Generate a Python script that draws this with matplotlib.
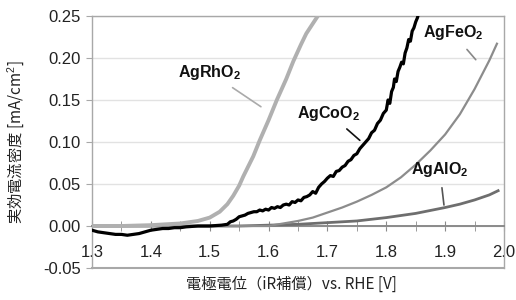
import matplotlib
matplotlib.use("Agg")
import matplotlib.pyplot as plt
from matplotlib.ticker import MultipleLocator, FormatStrFormatter

plt.rcParams['font.family'] = ['Liberation Sans', 'DejaVu Sans']
plt.rcParams['mathtext.fontset'] = 'custom'
plt.rcParams['mathtext.rm'] = 'Liberation Sans'
plt.rcParams['mathtext.bf'] = 'Liberation Sans:bold'

# AgRhO2
rh_v = [1.30, 1.35, 1.40, 1.45, 1.48, 1.50, 1.517, 1.53, 1.54, 1.55, 1.557,
        1.574, 1.585, 1.60, 1.614, 1.63, 1.642, 1.655, 1.664, 1.678, 1.695]
rh_j = [0.000, 0.000, 0.001, 0.003, 0.006, 0.010, 0.017, 0.026, 0.036, 0.048, 0.059,
        0.083, 0.102, 0.126, 0.150, 0.175, 0.196, 0.216, 0.229, 0.244, 0.262]

# AgCoO2 (noisy trace)
co_v = [1.300, 1.310, 1.320, 1.330, 1.340, 1.350, 1.360, 1.370, 1.380, 1.390,
        1.400, 1.410, 1.420, 1.430, 1.440, 1.450, 1.460, 1.480, 1.500, 1.520,
        1.530, 1.535, 1.540, 1.545, 1.550, 1.555, 1.560, 1.565, 1.570, 1.575,
        1.580, 1.585, 1.590, 1.595, 1.600, 1.605, 1.610, 1.615, 1.620, 1.625,
        1.630, 1.635, 1.640, 1.645, 1.650, 1.655, 1.660, 1.665, 1.670, 1.675,
        1.680, 1.685, 1.690, 1.695, 1.700, 1.705, 1.710, 1.715, 1.720, 1.725,
        1.730, 1.735, 1.740, 1.745, 1.750, 1.755, 1.760, 1.765, 1.770, 1.775,
        1.780, 1.785, 1.790, 1.795, 1.800, 1.803, 1.806, 1.809, 1.812, 1.814,
        1.817, 1.820, 1.823, 1.826, 1.829, 1.832, 1.835, 1.838, 1.841, 1.844,
        1.847, 1.850, 1.853, 1.856]
co_j = [-0.005, -0.007, -0.008, -0.009, -0.010, -0.010, -0.011, -0.010, -0.009, -0.007,
        -0.005, -0.004, -0.003, -0.003, -0.002, -0.002, -0.001, 0.000, 0.000, 0.001,
        0.002, 0.005, 0.006, 0.008, 0.011, 0.012, 0.013, 0.015, 0.016, 0.017,
        0.017, 0.019, 0.018, 0.020, 0.019, 0.022, 0.021, 0.023, 0.022, 0.025,
        0.026, 0.025, 0.029, 0.028, 0.031, 0.030, 0.034, 0.035, 0.037, 0.041,
        0.039, 0.046, 0.050, 0.053, 0.057, 0.060, 0.059, 0.065, 0.066, 0.070,
        0.072, 0.077, 0.079, 0.084, 0.086, 0.092, 0.096, 0.100, 0.104, 0.111,
        0.114, 0.122, 0.126, 0.134, 0.138, 0.150, 0.146, 0.160, 0.165, 0.175,
        0.172, 0.184, 0.189, 0.195, 0.193, 0.206, 0.212, 0.222, 0.220, 0.232,
        0.236, 0.243, 0.248, 0.256]

# AgFeO2
fe_v = [1.30, 1.40, 1.50, 1.60, 1.625, 1.65, 1.675, 1.70, 1.725, 1.75, 1.775,
        1.80, 1.825, 1.85, 1.875, 1.90, 1.925, 1.95, 1.975, 1.988]
fe_j = [0.000, 0.000, 0.000, 0.000, 0.003, 0.006, 0.010, 0.016, 0.022, 0.029, 0.037,
        0.046, 0.058, 0.073, 0.090, 0.109, 0.133, 0.163, 0.197, 0.217]

# AgAlO2
al_v = [1.30, 1.40, 1.50, 1.55, 1.60, 1.65, 1.70, 1.75, 1.80, 1.85, 1.90,
        1.925, 1.95, 1.975, 1.99]
al_j = [0.000, 0.000, 0.000, 0.000, 0.001, 0.002, 0.004, 0.006, 0.010, 0.015, 0.022,
        0.026, 0.031, 0.037, 0.042]

fig = plt.figure(figsize=(5.16, 3.0), dpi=100)
ax = fig.add_axes([92/516, 32/300, 412/516, 252/300])

ax.set_xlim(1.3, 2.0)
ax.set_ylim(-0.05, 0.25)

ax.yaxis.set_major_locator(MultipleLocator(0.05))
ax.yaxis.set_major_formatter(FormatStrFormatter('%.2f'))
ax.xaxis.set_major_locator(MultipleLocator(0.1))
ax.xaxis.set_minor_locator(MultipleLocator(0.05))
ax.xaxis.set_major_formatter(FormatStrFormatter('%.1f'))

ax.grid(axis='y', color='#e2e2e2', linewidth=1.0)
ax.set_axisbelow(True)

frame = '#a8a8a8'
for s in ['left', 'right', 'top']:
    ax.spines[s].set_color(frame)
    ax.spines[s].set_linewidth(1.0)
ax.spines['bottom'].set_position(('data', 0))
ax.spines['bottom'].set_color('#8a8a8a')
ax.spines['bottom'].set_linewidth(1.4)
ax.axhline(-0.05, color=frame, linewidth=1.5, clip_on=False, zorder=1)

ax.tick_params(axis='y', direction='out', length=4, color=frame, labelsize=12,
               labelcolor='#222222', pad=4)
ax.tick_params(axis='x', which='both', direction='inout', length=7, color='#8a8a8a',
               labelsize=12, labelcolor='#222222', pad=10)

ax.plot(al_v, al_j, color='#6e6e6e', linewidth=2.0, zorder=3)
ax.plot(fe_v, fe_j, color='#8c8c8c', linewidth=1.6, zorder=3)
ax.plot(rh_v, rh_j, color='#b0b0b0', linewidth=2.8, zorder=3)
ax.plot(co_v, co_j, color='#000000', linewidth=2.3, zorder=4)

cjk = ['Noto Sans CJK JP', 'DejaVu Sans']
ax.set_xlabel('電極電位（iR補償）vs. RHE [V]', family=cjk, fontsize=11,
              color='#222222')
ax.xaxis.set_label_coords(0.483, -0.03)
ax.set_ylabel('実効電流密度 [mA/cm$^2$]', family=cjk, fontsize=11,
              color='#222222')
ax.yaxis.set_label_coords(-0.158, 0.5)

labels = [
    ('AgRhO$_\\mathbf{2}$', (1.500, 0.183), (1.587, 0.142), '#aaaaaa'),
    ('AgCoO$_\\mathbf{2}$', (1.702, 0.1345), (1.755, 0.102), '#111111'),
    ('AgFeO$_\\mathbf{2}$', (1.913, 0.2298), (1.952, 0.198), '#888888'),
    ('AgAlO$_\\mathbf{2}$', (1.891, 0.0667), (1.898, 0.025), '#555555'),
]
for txt, pos, end, c in labels:
    ax.annotate(txt, xy=end, xytext=pos, ha='center', va='center',
                fontsize=11.5, fontweight='bold', color='#111111',
                arrowprops=dict(arrowstyle='-', color=c, linewidth=1.2,
                                shrinkA=4, shrinkB=0))

fig.savefig('out.png', dpi=100)
